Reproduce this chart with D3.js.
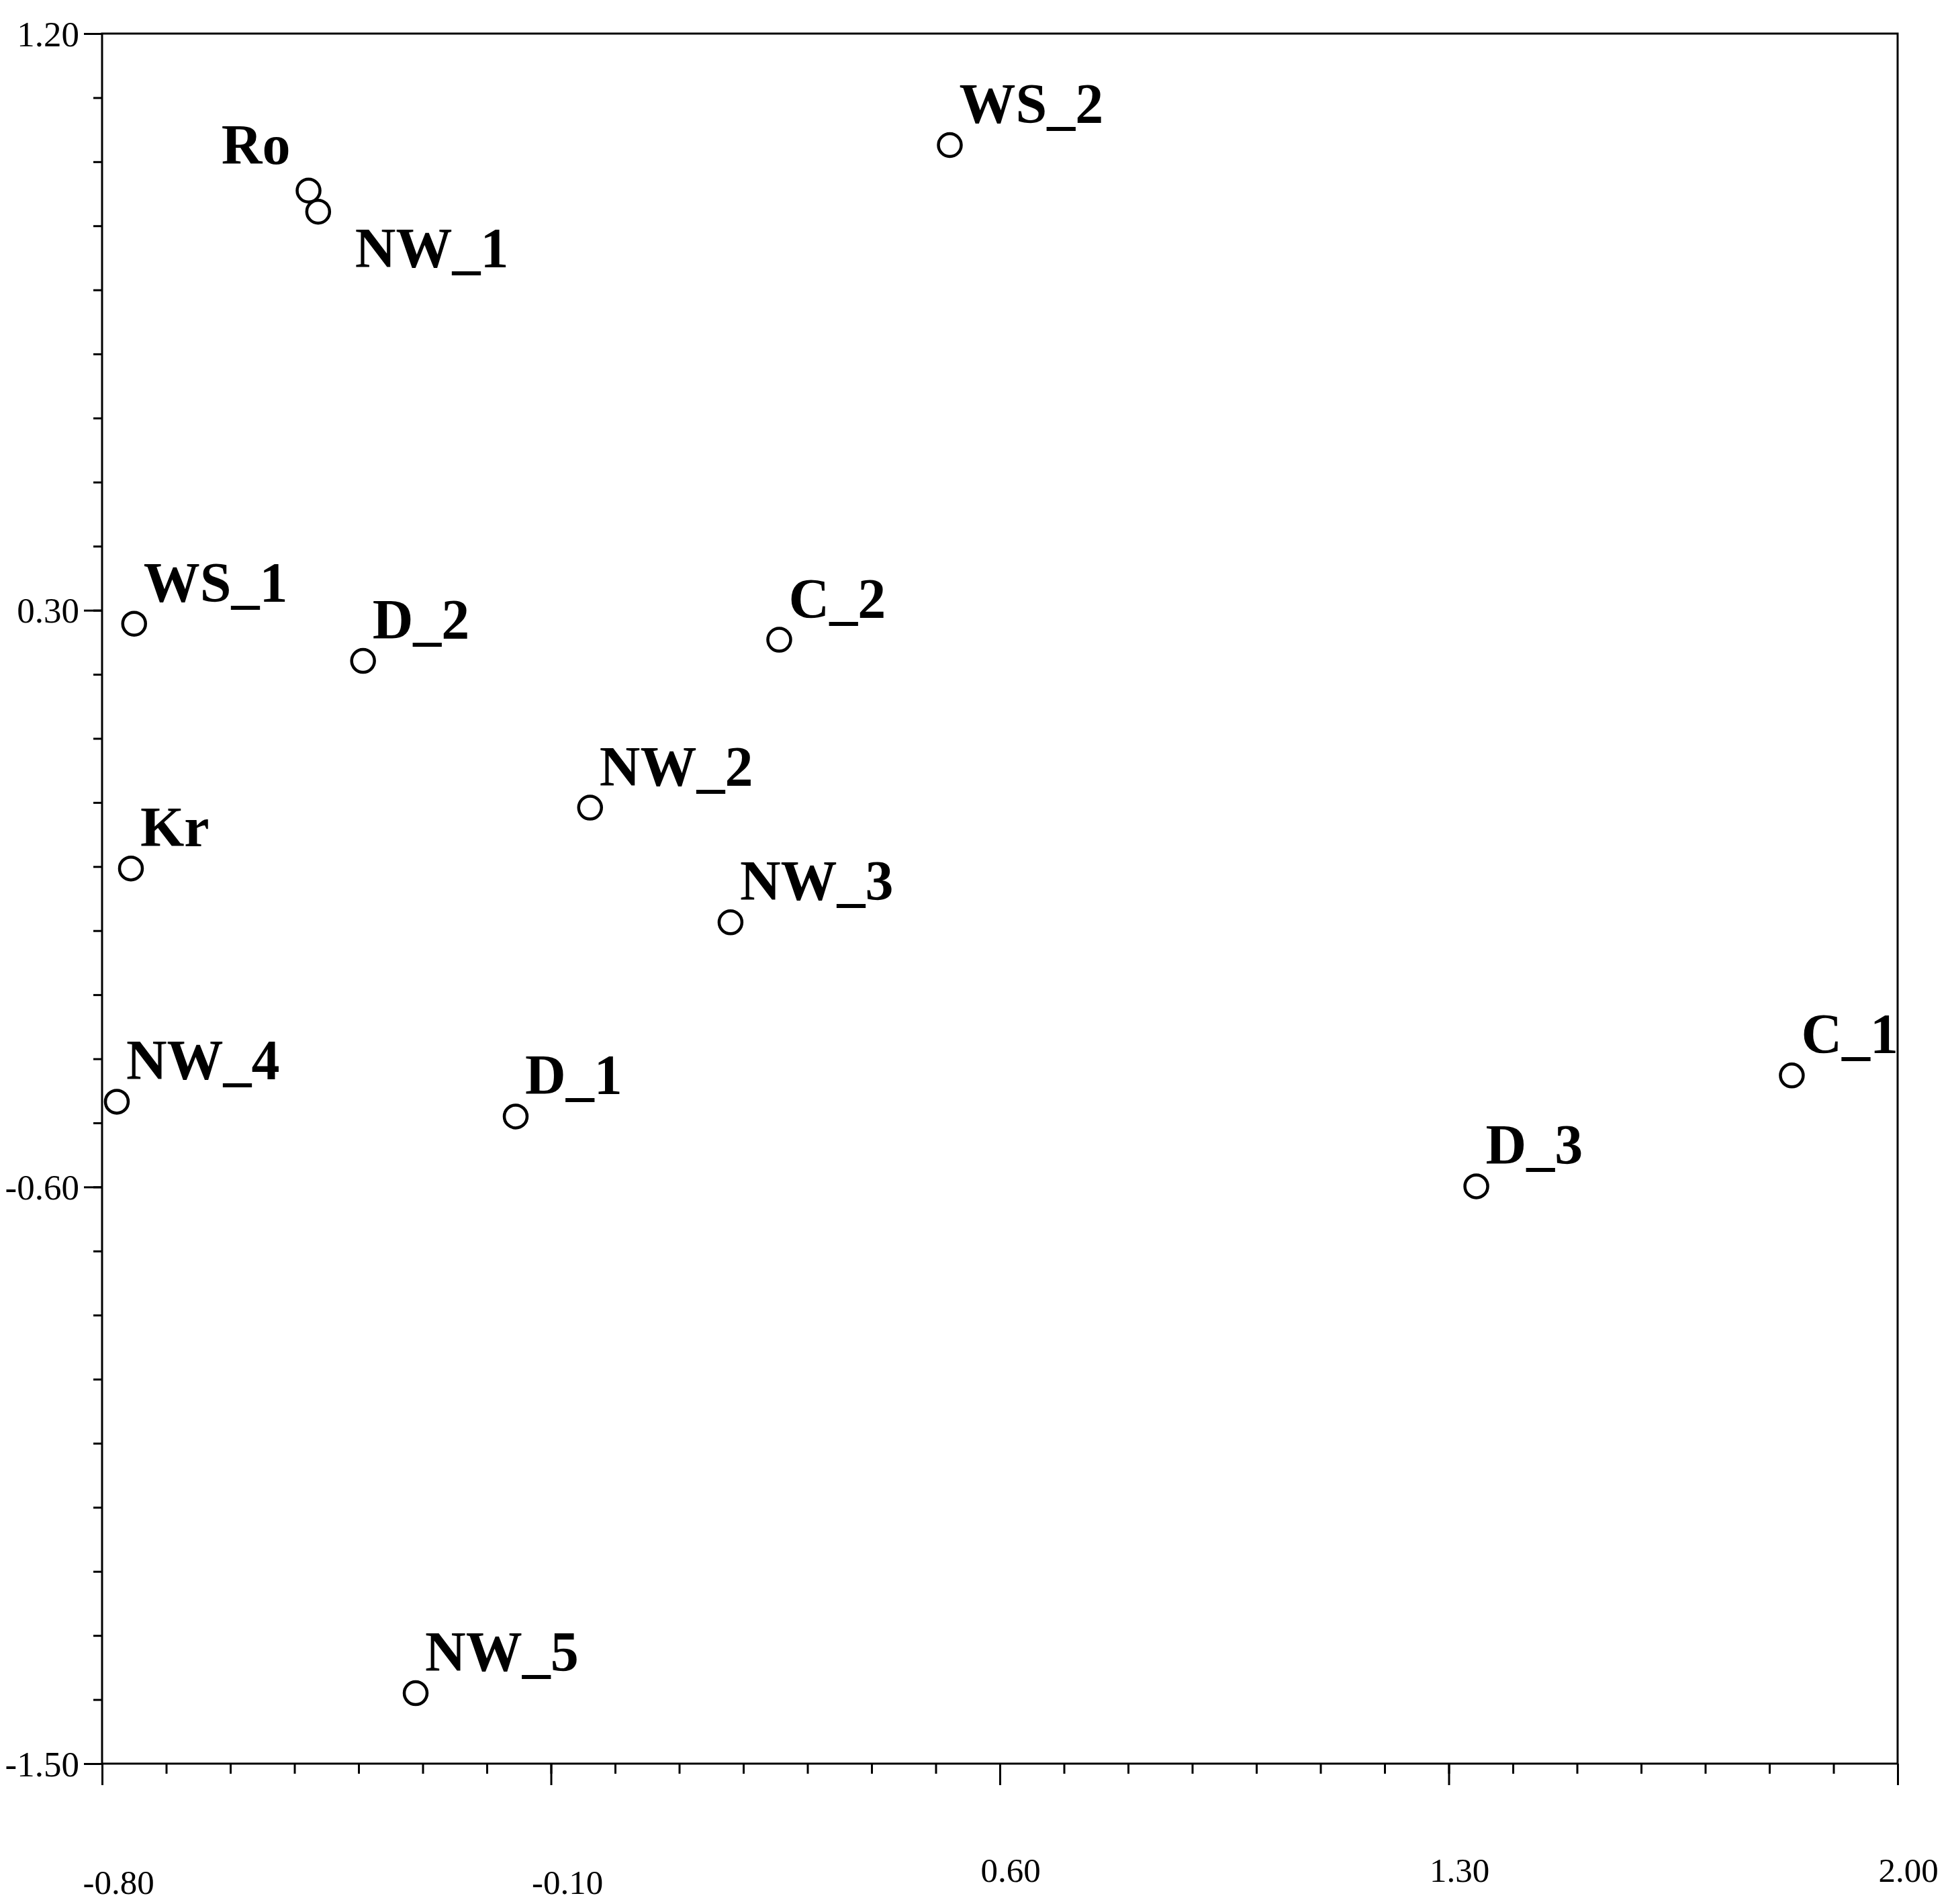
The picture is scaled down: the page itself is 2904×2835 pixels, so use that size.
<!DOCTYPE html>
<html>
<head>
<meta charset="utf-8">
<script src="https://cdn.jsdelivr.net/npm/d3@7"></script>
<style>
  body { margin: 0; background: #fff; }
</style>
</head>
<body>
<div id="container"></div>
<script>
/* CONSTANTS AND GLOBALS */
const width = 2904,
  height = 2835,
  margin = { top: 50, right: 78, bottom: 209, left: 152 };

/* DATA */
const names = ["Ro", "NW_1", "WS_2", "WS_1", "D_2", "C_2", "NW_2", "Kr", "NW_3", "NW_4", "D_1", "C_1", "D_3", "NW_5"];
const xVals = [-0.478, -0.463, 0.522, -0.750, -0.393, 0.256, -0.039, -0.755, 0.180, -0.777, -0.155, 1.835, 1.343, -0.311];
const yVals = [0.955, 0.922, 1.026, 0.279, 0.221, 0.254, -0.008, -0.103, -0.187, -0.467, -0.490, -0.426, -0.599, -1.390];

const xTicks = [-0.80, -0.10, 0.60, 1.30, 2.00];
const yTicks = [1.20, 0.30, -0.60, -1.50];

const data = names.map((n, i) => ({ name: n, x: xVals[i], y: yVals[i] }));

// label offsets (most labels sit up and right of the point)
const labelStyle = {
  default: { dx: 14, dy: -33, anchor: "start" },
  Ro: { dx: -27, dy: -40, anchor: "end" },
  NW_1: { dx: 55, dy: 83, anchor: "start" }
};

/* SCALES */
const xScale = d3.scaleLinear()
  .domain([-0.8, 2.0])
  .range([margin.left, width - margin.right]);

const yScale = d3.scaleLinear()
  .domain([-1.5, 1.2])
  .range([height - margin.bottom, margin.top]);

const xMinor = d3.range(-8, 21).map(i => i / 10);
const yMinor = d3.range(-15, 13).map(i => i / 10);

/* HTML ELEMENTS */
const svg = d3.select("#container")
  .append("svg")
  .attr("width", width)
  .attr("height", height)
  .style("background", "#fff");

const bottom = height - margin.bottom;

// minor ticks
svg.append("g")
  .attr("transform", `translate(0,${bottom})`)
  .call(d3.axisBottom(xScale).tickValues(xMinor).tickSize(15).tickFormat(""))
  .call(g => g.select(".domain").remove())
  .call(g => g.selectAll("line").attr("stroke-width", 3));

svg.append("g")
  .attr("transform", `translate(${margin.left},0)`)
  .call(d3.axisLeft(yScale).tickValues(yMinor).tickSize(13).tickFormat(""))
  .call(g => g.select(".domain").remove())
  .call(g => g.selectAll("line").attr("stroke-width", 3));

// major ticks + labels
svg.append("g")
  .attr("transform", `translate(0,${bottom})`)
  .call(d3.axisBottom(xScale).tickValues(xTicks).tickSize(32).tickFormat(d => d.toFixed(2)))
  .call(g => g.select(".domain").remove())
  .call(g => g.selectAll("line").attr("stroke-width", 3))
  .call(g => g.selectAll("text")
    .attr("font-family", "'Liberation Serif', serif")
    .attr("font-size", 51)
    .attr("fill", "#000")
    .attr("text-anchor", "start")
    .attr("x", -29)
    .attr("y", d => d < 0 ? 194 : 176)
    .attr("dy", 0));

svg.append("g")
  .attr("transform", `translate(${margin.left},0)`)
  .call(d3.axisLeft(yScale).tickValues(yTicks).tickSize(27).tickPadding(7).tickFormat(d => d.toFixed(2)))
  .call(g => g.select(".domain").remove())
  .call(g => g.selectAll("line").attr("stroke-width", 3))
  .call(g => g.selectAll("text")
    .attr("font-family", "'Liberation Serif', serif")
    .attr("font-size", 53)
    .attr("fill", "#000")
    .attr("dy", "0.34em"));

// frame
svg.append("rect")
  .attr("x", xScale(-0.8))
  .attr("y", yScale(1.2))
  .attr("width", xScale(2.0) - xScale(-0.8))
  .attr("height", yScale(-1.5) - yScale(1.2))
  .attr("fill", "none")
  .attr("stroke", "#000")
  .attr("stroke-width", 3);

// points
svg.selectAll("circle.pt")
  .data(data, d => d.name)
  .join("circle")
  .attr("class", "pt")
  .attr("cx", d => xScale(d.x))
  .attr("cy", d => yScale(d.y))
  .attr("r", 17)
  .attr("fill", "#fff")
  .attr("stroke", "#000")
  .attr("stroke-width", 4.5);

// labels
svg.selectAll("text.lbl")
  .data(data, d => d.name)
  .join("text")
  .attr("class", "lbl")
  .attr("x", d => xScale(d.x) + (labelStyle[d.name] || labelStyle.default).dx)
  .attr("y", d => yScale(d.y) + (labelStyle[d.name] || labelStyle.default).dy)
  .attr("text-anchor", d => (labelStyle[d.name] || labelStyle.default).anchor)
  .attr("font-family", "'Liberation Serif', 'Times New Roman', serif")
  .attr("font-weight", "bold")
  .attr("font-size", 84)
  .attr("fill", "#000")
  .text(d => d.name);
</script>
</body>
</html>
